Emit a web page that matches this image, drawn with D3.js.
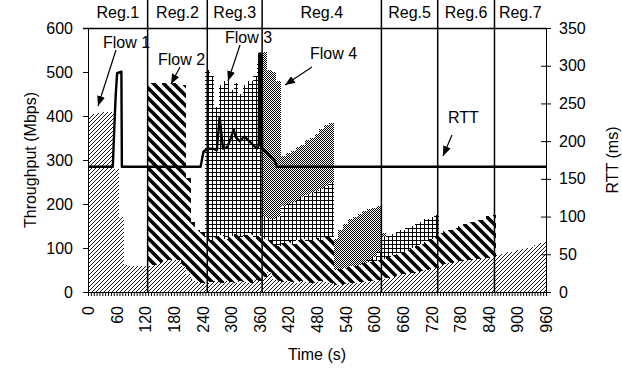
<!DOCTYPE html>
<html>
<head>
<meta charset="utf-8">
<script src="https://cdn.jsdelivr.net/npm/d3@7"></script>
<style>
    body { margin: 0; background: #fff; }
    svg { display: block; font-family: "Liberation Sans", Arial, sans-serif; }
</style>
</head>
<body>
<svg id="chart" width="622" height="368"></svg>
<script>
// Time grid (s), one sample every 10 s
const times = d3.range(0, 961, 10);

// Throughput per flow (Mbps)
const flow1 = [
    402, 404, 406, 408, 410, 408, 280, 170, 62, 58,
    60, 60, 60, 58, 62, 66, 70, 72, 72, 72,
    60, 40, 28, 22, 20, 20, 22, 25, 20, 25,
    22, 20, 25, 22, 20, 30, 25, 35, 45, 30,
    25, 22, 25, 22, 20, 25, 22, 20, 22, 25,
    22, 20, 15, 15, 18, 20, 20, 22, 22, 25,
    25, 28, 30, 32, 35, 38, 40, 42, 44, 46,
    48, 50, 52, 55, 62, 64, 66, 68, 70, 72,
    73, 74, 76, 77, 78, 80, 85, 87, 90, 92,
    95, 97, 100, 103, 106, 112, 114
];
const flow2 = [
    0, 0, 0, 0, 0, 0, 0, 0, 0, 0,
    0, 0, 0, 417, 414, 406, 405, 402, 404, 400,
    410, 220, 132, 118, 116, 100, 96, 100, 110, 95,
    106, 112, 100, 108, 114, 90, 103, 85, 73, 80,
    80, 90, 90, 88, 98, 95, 93, 98, 100, 93,
    102, 105, 35, 37, 37, 38, 40, 40, 43, 43,
    45, 44, 45, 48, 49, 50, 52, 54, 56, 59,
    62, 65, 68, 70, 72, 74, 76, 78, 80, 82,
    85, 86, 88, 91, 94, 96, 0, 0, 0, 0,
    0, 0, 0, 0, 0, 0, 0
];
const flow3 = [
    0, 0, 0, 0, 0, 0, 0, 0, 0, 0,
    0, 0, 0, 0, 0, 0, 0, 0, 0, 0,
    0, 0, 0, 0, 0, 385, 372, 295, 340, 360,
    332, 343, 325, 340, 346, 370, 392, 50, 47, 55,
    65, 83, 85, 95, 92, 95, 105, 107, 108, 117,
    118, 123, 0, 0, 0, 0, 0, 0, 0, 5,
    10, 20, 50, 48, 48, 48, 48, 49, 50, 50,
    50, 50, 50, 50, 0, 0, 0, 0, 0, 0,
    0, 0, 0, 0, 0, 0, 0, 0, 0, 0,
    0, 0, 0, 0, 0, 0, 0
];
const flow4 = [
    0, 0, 0, 0, 0, 0, 0, 0, 0, 0,
    0, 0, 0, 0, 0, 0, 0, 0, 0, 0,
    0, 0, 0, 0, 0, 0, 0, 0, 0, 0,
    0, 0, 0, 0, 0, 0, 0, 375, 340, 335,
    310, 115, 115, 115, 120, 120, 125, 125, 130, 135,
    138, 137, 70, 88, 100, 107, 110, 116, 119, 115,
    112, 104, 8, 0, 0, 0, 0, 0, 0, 0,
    0, 0, 0, 0, 0, 0, 0, 0, 0, 0,
    0, 0, 0, 0, 0, 0, 0, 0, 0, 0,
    0, 0, 0, 0, 0, 0, 0
];

// RTT (ms), own time points
const rttTime = [0, 52, 55, 58, 61, 70, 71, 236, 242, 250, 262, 270, 276, 283, 292, 300,
    305, 310, 318, 328, 338, 346, 354, 358, 359, 363, 365, 372, 382, 390, 396, 960];
const rttValue = [166, 166, 215, 260, 290, 292, 166, 166, 186, 190, 190, 188, 232, 190, 192, 205,
    216, 205, 200, 206, 200, 195, 190, 194, 316, 316, 190, 186, 180, 176, 166, 166];

// Regions
const regionEdges = [0, 125, 250, 365, 615, 733, 852, 960];
const regionNames = ["Reg.1", "Reg.2", "Reg.3", "Reg.4", "Reg.5", "Reg.6", "Reg.7"];

// Axis ticks
const leftTicks = [0, 100, 200, 300, 400, 500, 600];
const rightTicks = [0, 50, 100, 150, 200, 250, 300, 350];

// Layout
const plotLeft = 88, plotRight = 546, plotTop = 28, plotBottom = 292;

let svg = d3.select("#chart");
let defs = svg.append("defs");

// Fill patterns for the four flows
let p1 = defs.append("pattern").attr("id", "fill1")
    .attr("patternUnits", "userSpaceOnUse").attr("width", 4).attr("height", 4);
p1.append("rect").attr("width", 4).attr("height", 4).attr("fill", "#fff");
p1.append("path").attr("d", "M-1,1 L1,-1 M0,4 L4,0 M3,5 L5,3")
    .attr("stroke", "#000").attr("stroke-width", 0.9);

let p2 = defs.append("pattern").attr("id", "fill2")
    .attr("patternUnits", "userSpaceOnUse").attr("width", 10).attr("height", 10);
p2.append("rect").attr("width", 10).attr("height", 10).attr("fill", "#fff");
p2.append("path").attr("d", "M-5,-5 L15,15 M-5,5 L5,15 M5,-5 L15,5")
    .attr("stroke", "#000").attr("stroke-width", 3.6);

let p3 = defs.append("pattern").attr("id", "fill3")
    .attr("patternUnits", "userSpaceOnUse").attr("width", 4).attr("height", 4);
p3.append("rect").attr("width", 4).attr("height", 4).attr("fill", "#fff");
p3.append("rect").attr("width", 4).attr("height", 1).attr("fill", "#000");
p3.append("rect").attr("width", 1).attr("height", 4).attr("fill", "#000");

let p4 = defs.append("pattern").attr("id", "fill4")
    .attr("patternUnits", "userSpaceOnUse").attr("width", 2).attr("height", 2);
p4.append("rect").attr("width", 2).attr("height", 2).attr("fill", "#fff");
p4.append("rect").attr("width", 1).attr("height", 1).attr("fill", "#000");
p4.append("rect").attr("x", 1).attr("y", 1).attr("width", 1).attr("height", 1).attr("fill", "#000");

// Arrow head
defs.append("marker").attr("id", "arrow")
    .attr("markerUnits", "userSpaceOnUse")
    .attr("viewBox", "0 0 10 8").attr("refX", 10).attr("refY", 4)
    .attr("markerWidth", 10).attr("markerHeight", 8)
    .attr("orient", "auto")
    .append("path").attr("d", "M0,0 L10,4 L0,8 Z").attr("fill", "#000");

// Scales
let x = d3.scaleLinear().domain([0, 960]).range([plotLeft, plotRight]);
let yLeft = d3.scaleLinear().domain([0, 600]).range([plotBottom, plotTop]);
let yRight = d3.scaleLinear().domain([0, 350]).range([plotBottom, plotTop]);

// Stack the flows
let rows = times.map((t, i) => ({ t: t, f1: flow1[i], f2: flow2[i], f3: flow3[i], f4: flow4[i] }));
let series = d3.stack().keys(["f1", "f2", "f3", "f4"])(rows);

let area = d3.area()
    .x(d => x(d.data.t))
    .y0(d => yLeft(d[0]))
    .y1(d => yLeft(d[1]))
    .curve(d3.curveStep);

svg.append("g")
    .selectAll("path")
    .data(series)
    .enter()
    .append("path")
    .attr("d", area)
    .attr("fill", (d, i) => "url(#fill" + (i + 1) + ")")
    .attr("shape-rendering", "crispEdges");

// Region header and dividers
svg.append("line")
    .attr("x1", plotLeft - 5).attr("x2", plotRight)
    .attr("y1", plotTop + 0.5).attr("y2", plotTop + 0.5)
    .attr("stroke", "#000").attr("stroke-width", 1.5);

svg.append("g")
    .selectAll("line")
    .data(regionEdges.slice(1, -1))
    .enter()
    .append("line")
    .attr("x1", d => x(d)).attr("x2", d => x(d))
    .attr("y1", 0).attr("y2", plotBottom)
    .attr("stroke", "#000").attr("stroke-width", 1.5);

svg.append("g")
    .selectAll("text")
    .data(regionNames)
    .enter()
    .append("text")
    .attr("x", (d, i) => (x(regionEdges[i]) + x(regionEdges[i + 1])) / 2)
    .attr("y", 18)
    .attr("text-anchor", "middle")
    .attr("font-size", 16)
    .attr("fill", "#000")
    .text(d => d);

// RTT line
let rttLine = d3.line()
    .x(d => x(d[0]))
    .y(d => yRight(d[1]));

svg.append("path")
    .datum(rttTime.map((t, i) => [t, rttValue[i]]))
    .attr("d", rttLine)
    .attr("fill", "none")
    .attr("stroke", "#000")
    .attr("stroke-width", 2.4)
    .attr("stroke-linejoin", "round");

// Axes
let leftAxis = svg.append("g")
    .attr("transform", "translate(" + plotLeft + ",0)")
    .call(d3.axisLeft(yLeft).tickValues(leftTicks).tickSize(5).tickSizeOuter(0).tickPadding(10));

let rightAxis = svg.append("g")
    .attr("transform", "translate(" + plotRight + ",0)")
    .call(d3.axisRight(yRight).tickValues(rightTicks).tickSize(5).tickSizeOuter(0).tickPadding(8));
rightAxis.selectAll(".tick line").attr("x1", -5);

let bottomAxis = svg.append("g")
    .attr("transform", "translate(0," + plotBottom + ")")
    .call(d3.axisBottom(x).tickValues(d3.range(0, 961, 6)).tickSize(4).tickSizeOuter(0)
        .tickFormat(d => (d % 60 === 0 ? d : "")));
bottomAxis.selectAll("text")
    .attr("transform", "rotate(-90)")
    .attr("x", -14)
    .attr("y", 0)
    .attr("dy", "0.35em")
    .attr("text-anchor", "end");

[leftAxis, rightAxis, bottomAxis].forEach(axis => {
    axis.selectAll("text").attr("font-size", 16).attr("fill", "#000").attr("font-family", null);
    axis.selectAll("line, path").attr("stroke", "#000");
});

// Axis titles
svg.append("text")
    .attr("transform", "translate(30," + (plotTop + plotBottom) / 2 + ") rotate(-90)")
    .attr("dy", "0.35em")
    .attr("text-anchor", "middle")
    .attr("font-size", 16)
    .attr("fill", "#000")
    .text("Throughput (Mbps)");

svg.append("text")
    .attr("transform", "translate(612," + (plotTop + plotBottom) / 2 + ") rotate(-90)")
    .attr("dy", "0.35em")
    .attr("text-anchor", "middle")
    .attr("font-size", 16)
    .attr("fill", "#000")
    .text("RTT (ms)");

svg.append("text")
    .attr("x", 317)
    .attr("y", 360)
    .attr("text-anchor", "middle")
    .attr("font-size", 16)
    .attr("fill", "#000")
    .text("Time (s)");

// Annotations with arrows
const notes = [
    { label: "Flow 1", tx: 103, ty: 48, x1: 116, y1: 50, x2: 98, y2: 106 },
    { label: "Flow 2", tx: 158, ty: 65, x1: 180, y1: 67, x2: 171, y2: 84 },
    { label: "Flow 3", tx: 225, ty: 43, x1: 240, y1: 45, x2: 228, y2: 81 },
    { label: "Flow 4", tx: 310, ty: 59, x1: 312, y1: 67, x2: 285, y2: 85 },
    { label: "RTT", tx: 448, ty: 123, x1: 452, y1: 135, x2: 443, y2: 156 }
];

let noteGroup = svg.append("g");
notes.forEach(n => {
    noteGroup.append("text")
        .attr("x", n.tx).attr("y", n.ty)
        .attr("font-size", 16)
        .attr("fill", "#000")
        .text(n.label);
    noteGroup.append("line")
        .attr("x1", n.x1).attr("y1", n.y1)
        .attr("x2", n.x2).attr("y2", n.y2)
        .attr("stroke", "#000").attr("stroke-width", 1.2)
        .attr("marker-end", "url(#arrow)");
});
</script>
</body>
</html>
